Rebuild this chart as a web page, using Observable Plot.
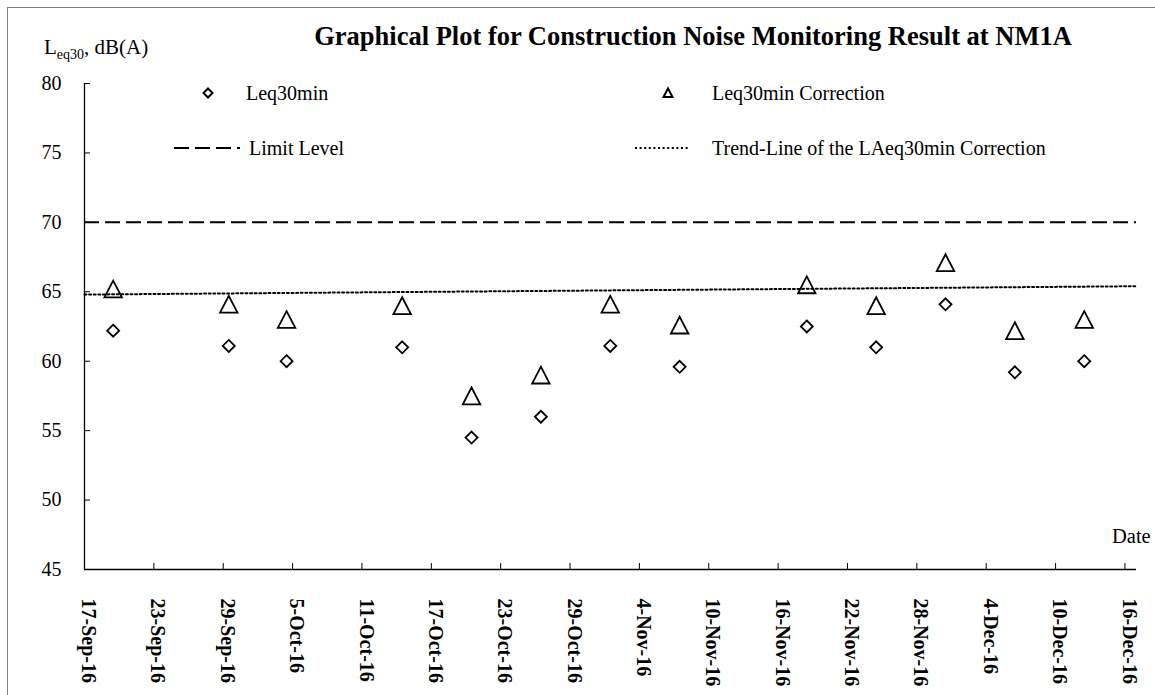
<!DOCTYPE html>
<html>
<head>
<meta charset="utf-8">
<script src="https://cdn.jsdelivr.net/npm/d3@7"></script>
<script src="https://cdn.jsdelivr.net/npm/@observablehq/plot@0.6"></script>
<style>
html, body { margin: 0; padding: 0; background: #fff; overflow: hidden; }
#wrap { position: relative; width: 1155px; height: 695px; font-family: "Liberation Serif", "Times New Roman", serif; color: #000; }
#frame { position: absolute; left: 7px; top: 7px; width: 1300px; height: 900px; border: 1px solid #808080; box-sizing: border-box; }
#chart { position: absolute; left: 0; top: 0; }
#overlay { position: absolute; left: 0; top: 0; pointer-events: none; }
</style>
</head>
<body>
<div id="wrap">
  <div id="frame"></div>
  <div id="chart"></div>
  <svg id="overlay" width="1155" height="695"></svg>
</div>
<script>
// ---- data ----
const measureTimes = [
  "2016-09-19 11:30", "2016-09-29 11:30", "2016-10-04 11:30", "2016-10-14 11:30",
  "2016-10-20 11:30", "2016-10-26 11:30", "2016-11-01 11:30", "2016-11-07 11:30",
  "2016-11-18 11:30", "2016-11-24 11:30", "2016-11-30 11:30", "2016-12-06 11:30",
  "2016-12-12 11:30"
];
const leq30min = [62.2, 61.1, 60.0, 61.0, 54.5, 56.0, 61.1, 59.6, 62.5, 61.0, 64.1, 59.2, 60.0];
const leq30minCorrection = [65.2, 64.1, 63.0, 64.0, 57.5, 59.0, 64.1, 62.6, 65.5, 64.0, 67.1, 62.2, 63.0];
const limitLevel = [70];
const trendTimes = ["2016-09-17 00:00", "2016-12-17 00:00"];
const trendValues = [64.8, 65.4];
const xDomainTimes = ["2016-09-17 00:00", "2016-12-17 00:00"];
const xTickLabels = ["17-Sep-16", "23-Sep-16", "29-Sep-16", "5-Oct-16", "11-Oct-16", "17-Oct-16",
  "23-Oct-16", "29-Oct-16", "4-Nov-16", "10-Nov-16", "16-Nov-16", "22-Nov-16", "28-Nov-16",
  "4-Dec-16", "10-Dec-16", "16-Dec-16"];
const yTicks = [45, 50, 55, 60, 65, 70, 75, 80];
const yDomain = [45, 80];

const titleText = "Graphical Plot for Construction Noise Monitoring Result at NM1A";
const legendLabels = ["Leq30min", "Leq30min Correction", "Limit Level", "Trend-Line of the LAeq30min Correction"];
const xAxisTitle = "Date";

// ---- build ----
const parseTime = d3.utcParse("%Y-%m-%d %H:%M");
const parseTick = d3.utcParse("%d-%b-%y");
const rows = measureTimes.map((t, i) => ({date: parseTime(t), leq: leq30min[i], corr: leq30minCorrection[i]}));
const trend = trendTimes.map((t, i) => ({date: parseTime(t), value: trendValues[i]}));
const xTicks = xTickLabels.map(s => parseTick(s));
const xDomain = xDomainTimes.map(parseTime);

const diamondSym = {
  draw(ctx, size) {
    const r = Math.sqrt(size / Math.PI);
    ctx.moveTo(0, -r); ctx.lineTo(r, 0); ctx.lineTo(0, r); ctx.lineTo(-r, 0); ctx.closePath();
  }
};
const triangleSym = {
  draw(ctx, size) {
    const r = Math.sqrt(size / Math.PI);
    const w = r * 1.04;
    ctx.moveTo(0, -r); ctx.lineTo(w, r); ctx.lineTo(-w, r); ctx.closePath();
  }
};

const chart = Plot.plot({
  width: 1155,
  height: 695,
  marginLeft: 84,
  marginRight: 19,
  marginTop: 83,
  marginBottom: 126,
  style: {fontFamily: "Liberation Serif, Times New Roman, serif", fontSize: "20px", color: "#000", background: "transparent", overflow: "visible"},
  x: {type: "utc", domain: xDomain},
  y: {domain: yDomain},
  marks: [
    Plot.axisY({ticks: yTicks, tickSize: -6, tickPadding: 29, tickFormat: d => String(d), label: null, fontSize: 20}),
    Plot.axisX({ticks: xTicks, tickSize: -6, tickFormat: () => "", label: null}),
    Plot.axisX({ticks: xTicks, tickSize: 0, tickPadding: 29, tickRotate: 90, dx: 4, tickFormat: (d, i) => xTickLabels[i], label: null, fontSize: 20, fontWeight: "bold"}),
    Plot.ruleX([xDomain[0]], {stroke: "#000", strokeWidth: 1.3}),
    Plot.ruleY([yDomain[0]], {stroke: "#000", strokeWidth: 1.3}),
    Plot.ruleY(limitLevel, {stroke: "#000", strokeWidth: 2, strokeDasharray: "15,6"}),
    Plot.line(trend, {x: "date", y: "value", stroke: "#000", strokeWidth: 2, strokeDasharray: "2,2.6"}),
    Plot.dot(rows, {x: "date", y: "leq", symbol: diamondSym, r: 6, stroke: "#000", fill: "none", strokeWidth: 1.8}),
    Plot.dot(rows, {x: "date", y: "corr", symbol: triangleSym, r: 8.4, stroke: "#000", fill: "none", strokeWidth: 1.8})
  ]
});
document.getElementById("chart").appendChild(chart);

// ---- overlay: title, axis titles, legend ----
const ov = d3.select("#overlay")
  .attr("font-family", "Liberation Serif, Times New Roman, serif")
  .attr("fill", "#000");

ov.append("text").attr("x", 693).attr("y", 45).attr("text-anchor", "middle")
  .attr("font-weight", "bold").attr("font-size", 26.5).text(titleText);

const yl = ov.append("text").attr("x", 44).attr("y", 54).attr("font-size", 21);
yl.append("tspan").text("L");
yl.append("tspan").attr("font-size", 14).attr("dy", 5).text("eq30");
yl.append("tspan").attr("dy", -5).text(", dB(A)");

ov.append("text").attr("x", 1112).attr("y", 543).attr("font-size", 20.5).text(xAxisTitle);

// legend
ov.append("path").attr("transform", "translate(208,93)")
  .attr("d", "M0,-4.5L4.5,0L0,4.5L-4.5,0Z").attr("fill", "none").attr("stroke", "#000").attr("stroke-width", 2);
ov.append("text").attr("x", 246).attr("y", 100).attr("font-size", 20).text(legendLabels[0]);

ov.append("path").attr("transform", "translate(668,93)")
  .attr("d", "M0,-4.5L4.5,4L-4.5,4Z").attr("fill", "none").attr("stroke", "#000").attr("stroke-width", 2);
ov.append("text").attr("x", 712).attr("y", 100).attr("font-size", 20).text(legendLabels[1]);

ov.append("line").attr("x1", 174).attr("x2", 240).attr("y1", 148).attr("y2", 148)
  .attr("stroke", "#000").attr("stroke-width", 2).attr("stroke-dasharray", "15,6");
ov.append("text").attr("x", 249).attr("y", 155).attr("font-size", 20).text(legendLabels[2]);

ov.append("line").attr("x1", 635).attr("x2", 690).attr("y1", 148).attr("y2", 148)
  .attr("stroke", "#000").attr("stroke-width", 2).attr("stroke-dasharray", "2,2.6");
ov.append("text").attr("x", 712).attr("y", 155).attr("font-size", 20).text(legendLabels[3]);
</script>
</body>
</html>
